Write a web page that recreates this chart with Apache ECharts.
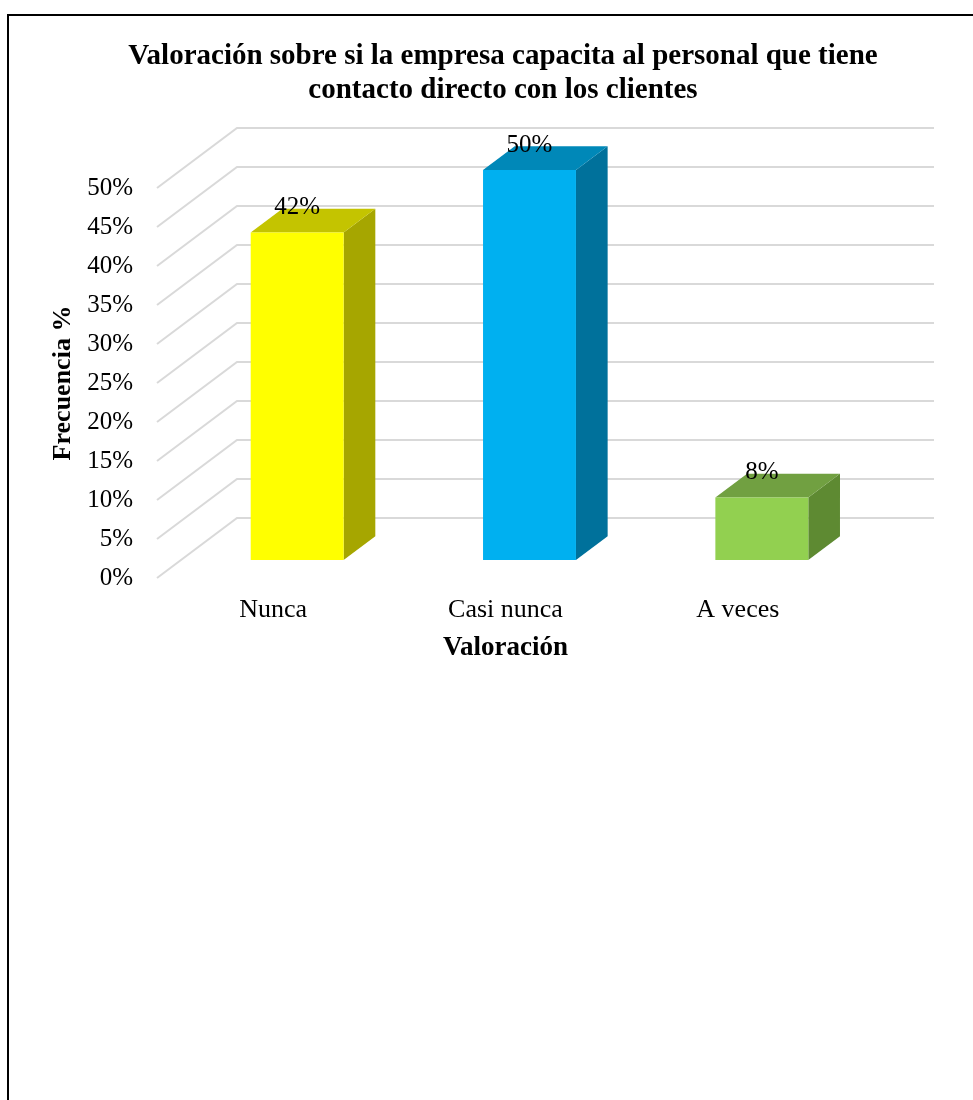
<!DOCTYPE html>
<html>
<head>
<meta charset="utf-8">
<title>Valoración</title>
<script src="https://cdn.jsdelivr.net/npm/echarts@6/dist/echarts.min.js"></script>
<style>
  html, body { margin: 0; padding: 0; background: #fff; }
  #chart { width: 973px; height: 1100px; }
</style>
</head>
<body>
<div id="chart"></div>
<script>
// Survey answers and their share of responses (%)
const categories = ['Nunca', 'Casi nunca', 'A veces'];
const percentages = [42, 50, 8];
const yTicks = [0, 5, 10, 15, 20, 25, 30, 35, 40, 45, 50];

// Face colours for each column: front, top, side
const frontColors = ['#FFFF00', '#00B0F0', '#92D050'];
const topColors = ['#C4C400', '#0088B8', '#71A041'];
const sideColors = ['#A6A600', '#00719B', '#5E8A32'];

const FONT = "'Liberation Serif', 'Times New Roman', serif";

// Oblique depth of the plot box (pixels from front plane to back wall)
const DEPTH_X = 80;
const DEPTH_Y = -60;
// Columns sit part-way into the box
const BAR_FRONT = 0.3;
const BAR_DEPTH = 0.396;
const BAR_WIDTH = 0.4;

const chart = echarts.init(document.getElementById('chart'), null, { renderer: 'canvas' });

function renderGridLine(params, api) {
  const cs = params.coordSys;
  const y = api.coord([0, api.value(1)])[1];
  const left = cs.x;
  const right = cs.x + cs.width;
  return {
    type: 'polyline',
    shape: {
      points: [
        [left, y],
        [left + DEPTH_X, y + DEPTH_Y],
        [right + DEPTH_X, y + DEPTH_Y]
      ]
    },
    style: { stroke: '#D9D9D9', lineWidth: 2, fill: null }
  };
}

function renderColumn(params, api) {
  const idx = api.value(0);
  const val = api.value(1);
  const base = api.coord([idx, 0]);
  const top = api.coord([idx, val]);
  const band = api.size([1, 0])[0];
  const w = band * BAR_WIDTH;
  const fx = DEPTH_X * BAR_FRONT, fy = DEPTH_Y * BAR_FRONT;
  const dx = DEPTH_X * BAR_DEPTH, dy = DEPTH_Y * BAR_DEPTH;
  const x0 = base[0] - w / 2 + fx;
  const x1 = x0 + w;
  const yb = base[1] + fy;
  const yt = top[1] + fy;
  return {
    type: 'group',
    children: [
      {
        type: 'polygon',
        shape: { points: [[x1, yb], [x1, yt], [x1 + dx, yt + dy], [x1 + dx, yb + dy]] },
        style: { fill: sideColors[idx] }
      },
      {
        type: 'polygon',
        shape: { points: [[x0, yt], [x1, yt], [x1 + dx, yt + dy], [x0 + dx, yt + dy]] },
        style: { fill: topColors[idx] }
      },
      {
        type: 'rect',
        shape: { x: x0, y: yt, width: w, height: yb - yt },
        style: { fill: frontColors[idx] }
      },
      {
        type: 'text',
        x: x0 + w / 2,
        y: yt + dy - 1,
        style: {
          text: val + '%',
          fill: '#000',
          font: '25px ' + FONT,
          align: 'center',
          verticalAlign: 'middle'
        }
      }
    ]
  };
}

chart.setOption({
  animation: false,
  backgroundColor: '#fff',
  title: {
    text: 'Valoración sobre si la empresa capacita al personal que tiene\ncontacto directo con los clientes',
    left: 498,
    top: 35,
    textAlign: 'center',
    textStyle: {
      fontFamily: FONT,
      fontWeight: 'bold',
      fontSize: 29,
      lineHeight: 34,
      color: '#000'
    }
  },
  graphic: [
    {
      type: 'rect',
      shape: { x: 8, y: 15, width: 1000, height: 1100 },
      style: { fill: null, stroke: '#000', lineWidth: 2 },
      silent: true
    }
  ],
  grid: { left: 157, right: 119, top: 188, bottom: 522 },
  xAxis: {
    type: 'category',
    data: categories,
    name: 'Valoración',
    nameLocation: 'middle',
    nameGap: 57,
    nameTextStyle: { fontFamily: FONT, fontWeight: 'bold', fontSize: 27, color: '#000' },
    axisLine: { show: false },
    axisTick: { show: false },
    axisLabel: { fontFamily: FONT, fontSize: 26, color: '#000', margin: 19 },
    splitLine: { show: false }
  },
  yAxis: {
    type: 'value',
    min: 0,
    max: 50,
    interval: 5,
    name: 'Frecuencia %',
    nameLocation: 'middle',
    nameGap: 79,
    nameTextStyle: { fontFamily: FONT, fontWeight: 'bold', fontSize: 26, color: '#000' },
    axisLine: { show: false },
    axisTick: { show: false },
    splitLine: { show: false },
    axisLabel: { fontFamily: FONT, fontSize: 25, color: '#000', margin: 24, formatter: '{value}%' }
  },
  series: [
    {
      type: 'custom',
      renderItem: renderGridLine,
      clip: false,
      silent: true,
      data: yTicks.map(t => [0, t])
    },
    {
      type: 'custom',
      renderItem: renderColumn,
      clip: false,
      data: percentages.map((v, i) => [i, v])
    }
  ]
});
</script>
</body>
</html>
